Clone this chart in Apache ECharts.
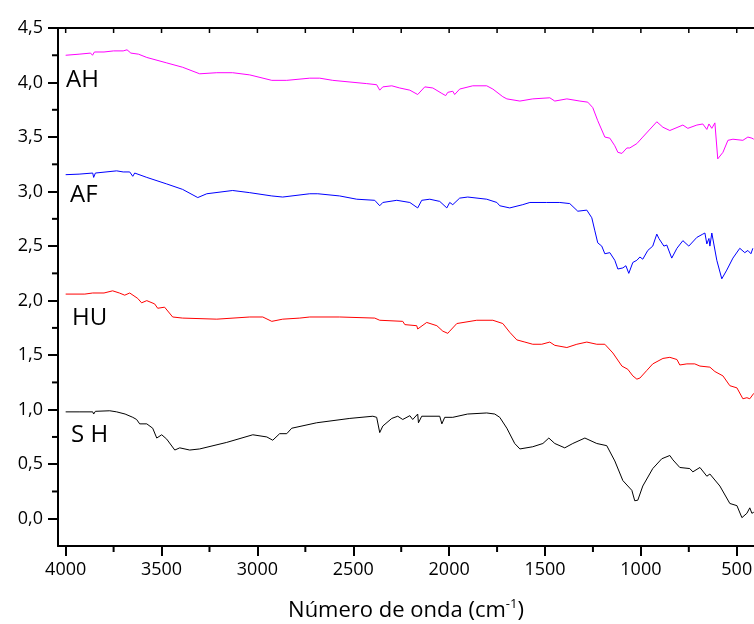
<!DOCTYPE html>
<html>
<head>
<meta charset="utf-8">
<script src="https://cdn.jsdelivr.net/npm/echarts@6/dist/echarts.min.js"></script>
<style>
  html, body { margin: 0; padding: 0; background: #fff; }
  #main { width: 754px; height: 624px; }
</style>
</head>
<body>
<div id="main"></div>
<script>
// wavenumber (cm-1) / value pairs
var seriesNames = ['AH', 'AF', 'HU', 'S H'];
var seriesColors = ['#ff00ff', '#0000ff', '#ff0000', '#000000'];

var dataAH = [[4000,4.25],[3930,4.26],[3870,4.27],[3860,4.25],[3850,4.28],[3800,4.28],[3750,4.29],[3700,4.29],[3680,4.30],[3660,4.27],[3620,4.26],[3577,4.23],[3473,4.18],[3390,4.14],[3301,4.08],[3212,4.09],[3129,4.09],[3040,4.07],[2925,4.02],[2847,4.02],[2727,4.04],[2675,4.04],[2607,4.02],[2430,3.99],[2378,3.98],[2362,3.93],[2346,3.96],[2299,3.97],[2258,3.95],[2205,3.93],[2164,3.89],[2127,3.96],[2085,3.95],[2038,3.90],[2018,3.88],[2007,3.91],[1981,3.92],[1971,3.89],[1945,3.94],[1877,3.97],[1804,3.97],[1772,3.94],[1720,3.87],[1699,3.85],[1631,3.83],[1564,3.85],[1475,3.86],[1449,3.83],[1386,3.85],[1318,3.83],[1277,3.82],[1251,3.77],[1225,3.65],[1188,3.50],[1162,3.49],[1136,3.42],[1120,3.36],[1099,3.35],[1073,3.40],[1058,3.40],[1021,3.44],[990,3.50],[917,3.64],[885,3.59],[849,3.56],[781,3.61],[755,3.58],[708,3.61],[677,3.62],[656,3.57],[645,3.62],[630,3.58],[614,3.63],[599,3.30],[572,3.36],[546,3.47],[520,3.48],[468,3.47],[442,3.50],[421,3.49],[411,3.48]];

var dataAF = [[4000,3.155],[3930,3.16],[3859,3.17],[3854,3.13],[3845,3.17],[3734,3.19],[3700,3.18],[3666,3.18],[3650,3.14],[3640,3.17],[3577,3.13],[3473,3.07],[3390,3.02],[3311,2.945],[3264,2.98],[3129,3.01],[3040,2.99],[2925,2.96],[2868,2.95],[2727,2.98],[2685,2.98],[2571,2.96],[2482,2.93],[2388,2.92],[2362,2.87],[2346,2.90],[2273,2.92],[2205,2.90],[2164,2.85],[2143,2.92],[2101,2.93],[2049,2.91],[2012,2.85],[1997,2.90],[1981,2.88],[1945,2.94],[1903,2.95],[1804,2.93],[1751,2.90],[1736,2.87],[1684,2.85],[1616,2.88],[1579,2.90],[1491,2.90],[1423,2.90],[1371,2.89],[1329,2.82],[1282,2.83],[1256,2.76],[1240,2.64],[1225,2.53],[1204,2.50],[1188,2.43],[1162,2.44],[1136,2.37],[1120,2.29],[1094,2.30],[1078,2.32],[1063,2.25],[1042,2.35],[1021,2.37],[1005,2.40],[990,2.38],[964,2.46],[938,2.50],[917,2.61],[906,2.57],[880,2.50],[865,2.51],[839,2.39],[812,2.48],[781,2.55],[750,2.50],[708,2.58],[677,2.61],[666,2.62],[656,2.52],[645,2.57],[640,2.50],[630,2.62],[604,2.37],[578,2.20],[552,2.28],[520,2.39],[484,2.48],[458,2.44],[442,2.46],[426,2.43],[416,2.48]];

var dataHU = [[4000,2.06],[3900,2.06],[3859,2.07],[3800,2.07],[3755,2.09],[3720,2.07],[3692,2.05],[3666,2.07],[3624,2.02],[3604,1.98],[3577,2.00],[3536,1.97],[3520,1.93],[3484,1.94],[3442,1.85],[3390,1.84],[3212,1.83],[3040,1.85],[2972,1.85],[2925,1.81],[2868,1.83],[2779,1.84],[2727,1.85],[2571,1.85],[2388,1.84],[2362,1.82],[2242,1.81],[2231,1.78],[2169,1.77],[2164,1.74],[2117,1.80],[2064,1.77],[2033,1.72],[2007,1.70],[1997,1.72],[1960,1.79],[1856,1.82],[1772,1.82],[1720,1.79],[1710,1.78],[1684,1.71],[1647,1.64],[1605,1.62],[1564,1.60],[1517,1.60],[1475,1.62],[1449,1.59],[1386,1.57],[1334,1.60],[1282,1.62],[1230,1.60],[1188,1.60],[1146,1.52],[1099,1.40],[1068,1.37],[1042,1.31],[1021,1.28],[1005,1.29],[969,1.36],[938,1.42],[885,1.47],[849,1.48],[812,1.46],[797,1.41],[760,1.42],[719,1.42],[692,1.40],[640,1.39],[614,1.35],[572,1.31],[536,1.22],[499,1.20],[468,1.10],[447,1.11],[432,1.10],[411,1.15]];

var dataSH = [[4000,0.98],[3930,0.98],[3859,0.98],[3854,0.96],[3845,0.985],[3770,0.99],[3734,0.98],[3690,0.96],[3682,0.945],[3650,0.93],[3630,0.91],[3614,0.87],[3577,0.87],[3546,0.83],[3525,0.74],[3499,0.77],[3473,0.73],[3431,0.63],[3405,0.65],[3353,0.63],[3301,0.64],[3160,0.70],[3024,0.77],[2951,0.75],[2920,0.72],[2884,0.78],[2847,0.78],[2821,0.83],[2691,0.88],[2518,0.92],[2398,0.94],[2378,0.93],[2362,0.79],[2346,0.85],[2299,0.92],[2268,0.94],[2242,0.91],[2205,0.945],[2190,0.91],[2164,0.96],[2160,0.88],[2143,0.94],[2049,0.94],[2038,0.87],[2023,0.93],[1981,0.93],[1904,0.96],[1804,0.97],[1762,0.96],[1736,0.93],[1699,0.83],[1658,0.69],[1631,0.64],[1564,0.66],[1511,0.69],[1480,0.74],[1449,0.69],[1397,0.65],[1355,0.69],[1292,0.74],[1230,0.69],[1178,0.67],[1136,0.53],[1094,0.35],[1047,0.26],[1032,0.165],[1016,0.17],[990,0.30],[938,0.46],[891,0.55],[849,0.58],[833,0.54],[797,0.47],[745,0.46],[729,0.43],[692,0.47],[656,0.39],[640,0.41],[588,0.30],[536,0.14],[499,0.12],[473,0.01],[447,0.05],[432,0.10],[421,0.05],[411,0.06]];

var xMajor = [4000, 3500, 3000, 2500, 2000, 1500, 1000, 500];
var xMinor = [3750, 3250, 2750, 2250, 1750, 1250, 750];
var yMajor = [0, 0.5, 1, 1.5, 2, 2.5, 3, 3.5, 4, 4.5];
var yMinor = [0.25, 0.75, 1.25, 1.75, 2.25, 2.75, 3.25, 3.75, 4.25];

var FONT = '"Open Sans", sans-serif';
var xMin = 410, xMax = 4040, yMin = -0.25, yMax = 4.5;

var myChart = echarts.init(document.getElementById('main'));

var series = [dataAH, dataAF, dataHU, dataSH].map(function (d, i) {
    return {
        name: seriesNames[i],
        type: 'line',
        xAxisIndex: 0,
        yAxisIndex: 0,
        data: d,
        showSymbol: false,
        symbol: 'none',
        lineStyle: { color: seriesColors[i], width: 1 },
        itemStyle: { color: seriesColors[i] }
    };
});

var labels = [
    { type: 'text', left: 66, top: 68, style: { text: 'AH', font: '24px "Open Sans"', fill: '#000' } },
    { type: 'text', left: 70, top: 183, style: { text: 'AF', font: '24px "Open Sans"', fill: '#000' } },
    { type: 'text', left: 72, top: 306, style: { text: 'HU', font: '24px "Open Sans"', fill: '#000' } },
    { type: 'text', left: 71, top: 423, style: { text: 'S H', font: '24px "Open Sans"', fill: '#000' } }
];

option = {
    backgroundColor: '#fff',
    animation: false,
    grid: { left: 58, right: 0, top: 28, bottom: 78, containLabel: false, outerBoundsMode: 'none' },
    xAxis: [
        {
            type: 'value', min: xMin, max: xMax, inverse: true, position: 'bottom',
            name: 'Número de onda (cm{sup|-1})',
            nameLocation: 'middle',
            nameGap: 52,
            nameTextStyle: {
                fontFamily: FONT, fontSize: 22, color: '#000',
                rich: { sup: { fontFamily: FONT, fontSize: 13, color: '#000', verticalAlign: 'top', padding: [0, 0, 12, 0] } }
            },
            splitLine: { show: false },
            axisLine: { show: true, onZero: false, lineStyle: { color: '#000', width: 2 } },
            axisTick: { show: true, length: 10, customValues: xMajor, lineStyle: { color: '#000', width: 2 } },
            axisLabel: {
                show: true, customValues: xMajor, margin: 15, fontFamily: FONT, fontSize: 18, color: '#000',
                formatter: function (v) { return String(v); }
            }
        },
        {
            type: 'value', min: xMin, max: xMax, inverse: true, position: 'top',
            splitLine: { show: false },
            axisLine: { show: true, onZero: false, lineStyle: { color: '#000', width: 2 } },
            axisTick: { show: false },
            axisLabel: { show: false }
        }
    ],
    yAxis: {
        type: 'value', min: yMin, max: yMax, position: 'left',
        splitLine: { show: false },
        axisLine: { show: true, onZero: false, lineStyle: { color: '#000', width: 2 } },
        axisTick: { show: true, length: 10, customValues: yMajor, lineStyle: { color: '#000', width: 2 } },
        axisLabel: {
            show: true, customValues: yMajor, margin: 15,
            fontFamily: FONT, fontSize: 18, color: '#000',
            formatter: function (v) { return v.toFixed(1).replace('.', ','); }
        }
    },
    graphic: labels,
    series: series
};
myChart.setOption(option);

// minor ticks and the small inward ticks of the top frame, placed through the chart's scales
var tickMarks = [];
function px(v) { return myChart.convertToPixel({ xAxisIndex: 0, yAxisIndex: 0 }, v); }
function addTick(x1, y1, x2, y2, w) {
    if ([x1, y1, x2, y2].some(function (n) { return typeof n !== 'number' || isNaN(n); })) return;
    tickMarks.push({ type: 'line', silent: true, z: 100, shape: { x1: x1, y1: y1, x2: x2, y2: y2 }, style: { stroke: '#000', lineWidth: w } });
}
xMinor.forEach(function (v) {
    var p = px([v, yMin]);
    if (p) addTick(p[0], p[1], p[0], p[1] + 6, 2);
});
yMinor.forEach(function (v) {
    var p = px([xMax, v]);
    if (p) addTick(p[0] - 6, p[1], p[0], p[1], 2);
});
xMajor.concat(xMinor).forEach(function (v) {
    var p = px([v, yMax]);
    if (p) addTick(p[0], p[1], p[0], p[1] + 5, 1.5);
});
myChart.setOption({ graphic: labels.concat(tickMarks) });
</script>
</body>
</html>
